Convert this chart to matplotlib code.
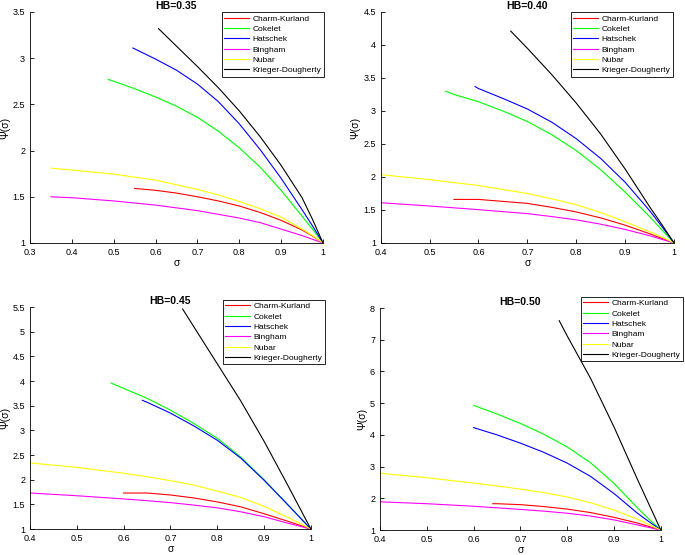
import matplotlib.pyplot as plt
from matplotlib.ticker import FormatStrFormatter, MultipleLocator

plt.rcParams['font.family'] = ['Liberation Sans', 'DejaVu Sans']

# model names and colours (MATLAB style)
models = ['Charm-Kurland', 'Cokelet', 'Hatschek', 'Bingham', 'Nubar', 'Krieger-Dougherty']
colors = ['#ff0000', '#00ff00', '#0000ff', '#ff00ff', '#ffff00', '#000000']

# HB = 0.35
ck35_x = [0.55, 0.6, 0.65, 0.7, 0.75, 0.8, 0.85, 0.9, 0.95, 0.975, 1.0]
ck35_y = [1.59, 1.57, 1.54, 1.50, 1.455, 1.40, 1.33, 1.245, 1.14, 1.075, 1.0]
co35_x = [0.487, 0.5, 0.55, 0.6, 0.65, 0.7, 0.75, 0.8, 0.85, 0.9, 0.95, 0.975, 1.0]
co35_y = [2.77, 2.75, 2.67, 2.58, 2.48, 2.36, 2.21, 2.03, 1.82, 1.57, 1.29, 1.15, 1.0]
ha35_x = [0.546, 0.6, 0.65, 0.7, 0.75, 0.8, 0.85, 0.9, 0.95, 0.975, 1.0]
ha35_y = [3.11, 2.99, 2.87, 2.72, 2.53, 2.29, 2.01, 1.70, 1.36, 1.185, 1.0]
bi35_x = [0.35, 0.4, 0.5, 0.6, 0.7, 0.75, 0.8, 0.85, 0.9, 0.95, 0.975, 1.0]
bi35_y = [1.50, 1.49, 1.455, 1.41, 1.35, 1.31, 1.27, 1.22, 1.15, 1.08, 1.04, 1.0]
nu35_x = [0.35, 0.4, 0.5, 0.6, 0.7, 0.75, 0.8, 0.85, 0.9, 0.95, 0.975, 1.0]
nu35_y = [1.81, 1.79, 1.745, 1.68, 1.58, 1.52, 1.45, 1.37, 1.28, 1.15, 1.08, 1.0]
kd35_x = [0.607, 0.65, 0.7, 0.75, 0.8, 0.85, 0.9, 0.95, 0.975, 1.0]
kd35_y = [3.32, 3.13, 2.91, 2.68, 2.43, 2.15, 1.84, 1.49, 1.255, 1.0]

# HB = 0.40
ck40_x = [0.55, 0.6, 0.65, 0.7, 0.75, 0.8, 0.85, 0.9, 0.95, 0.975, 1.0]
ck40_y = [1.66, 1.66, 1.63, 1.60, 1.54, 1.47, 1.38, 1.27, 1.14, 1.07, 1.0]
co40_x = [0.533, 0.55, 0.6, 0.65, 0.7, 0.75, 0.8, 0.85, 0.9, 0.95, 0.975, 1.0]
co40_y = [3.30, 3.25, 3.14, 3.00, 2.84, 2.64, 2.40, 2.11, 1.77, 1.40, 1.20, 1.0]
ha40_x = [0.593, 0.6, 0.65, 0.7, 0.75, 0.8, 0.85, 0.9, 0.95, 0.975, 1.0]
ha40_y = [3.37, 3.34, 3.19, 3.03, 2.83, 2.58, 2.28, 1.92, 1.49, 1.25, 1.0]
bi40_x = [0.4, 0.5, 0.6, 0.65, 0.7, 0.75, 0.8, 0.85, 0.9, 0.95, 0.975, 1.0]
bi40_y = [1.61, 1.56, 1.505, 1.475, 1.445, 1.40, 1.35, 1.285, 1.205, 1.11, 1.055, 1.0]
nu40_x = [0.4, 0.5, 0.6, 0.65, 0.7, 0.75, 0.8, 0.85, 0.9, 0.95, 0.975, 1.0]
nu40_y = [2.035, 1.96, 1.87, 1.81, 1.75, 1.67, 1.58, 1.46, 1.32, 1.17, 1.09, 1.0]
kd40_x = [0.666, 0.7, 0.75, 0.8, 0.85, 0.9, 0.95, 0.975, 1.0]
kd40_y = [4.21, 3.95, 3.55, 3.12, 2.65, 2.12, 1.55, 1.28, 1.0]

# HB = 0.45
ck45_x = [0.6, 0.65, 0.7, 0.75, 0.8, 0.85, 0.9, 0.95, 0.975, 1.0]
ck45_y = [1.73, 1.73, 1.69, 1.63, 1.55, 1.45, 1.31, 1.16, 1.08, 1.0]
co45_x = [0.573, 0.6, 0.65, 0.7, 0.75, 0.8, 0.85, 0.9, 0.95, 0.975, 1.0]
co45_y = [3.96, 3.85, 3.65, 3.41, 3.14, 2.84, 2.46, 2.00, 1.50, 1.25, 1.0]
ha45_x = [0.64, 0.65, 0.7, 0.75, 0.8, 0.85, 0.9, 0.95, 0.975, 1.0]
ha45_y = [3.61, 3.57, 3.35, 3.09, 2.80, 2.44, 1.99, 1.50, 1.25, 1.0]
bi45_x = [0.4, 0.5, 0.6, 0.65, 0.7, 0.75, 0.8, 0.85, 0.9, 0.95, 0.975, 1.0]
bi45_y = [1.73, 1.675, 1.61, 1.575, 1.535, 1.485, 1.43, 1.35, 1.25, 1.12, 1.06, 1.0]
nu45_x = [0.4, 0.5, 0.6, 0.65, 0.7, 0.75, 0.8, 0.85, 0.9, 0.95, 0.975, 1.0]
nu45_y = [2.34, 2.25, 2.13, 2.06, 1.98, 1.89, 1.77, 1.64, 1.46, 1.24, 1.12, 1.0]
kd45_x = [0.726, 0.75, 0.8, 0.85, 0.9, 0.95, 0.975, 1.0]
kd45_y = [5.46, 5.10, 4.35, 3.60, 2.78, 1.90, 1.45, 1.0]

# HB = 0.50
ck50_x = [0.641, 0.65, 0.7, 0.75, 0.8, 0.85, 0.9, 0.95, 0.975, 1.0]
ck50_y = [1.83, 1.83, 1.80, 1.74, 1.66, 1.55, 1.40, 1.22, 1.11, 1.0]
co50_x = [0.6, 0.65, 0.7, 0.75, 0.8, 0.85, 0.9, 0.95, 0.975, 1.0]
co50_y = [4.93, 4.66, 4.36, 4.02, 3.62, 3.12, 2.47, 1.70, 1.34, 1.0]
ha50_x = [0.6, 0.65, 0.7, 0.75, 0.8, 0.85, 0.9, 0.95, 0.975, 1.0]
ha50_y = [4.23, 4.00, 3.74, 3.45, 3.11, 2.69, 2.15, 1.53, 1.26, 1.0]
bi50_x = [0.4, 0.5, 0.6, 0.65, 0.7, 0.75, 0.8, 0.85, 0.9, 0.95, 0.975, 1.0]
bi50_y = [1.89, 1.83, 1.75, 1.70, 1.65, 1.595, 1.53, 1.44, 1.32, 1.16, 1.08, 1.0]
nu50_x = [0.4, 0.5, 0.6, 0.65, 0.7, 0.75, 0.8, 0.85, 0.9, 0.95, 0.975, 1.0]
nu50_y = [2.79, 2.65, 2.48, 2.39, 2.29, 2.18, 2.04, 1.86, 1.63, 1.34, 1.17, 1.0]
kd50_x = [0.783, 0.8, 0.85, 0.9, 0.95, 0.975, 1.0]
kd50_y = [7.6, 7.12, 5.78, 4.25, 2.60, 1.80, 1.0]

panels = [
    ('HB=0.35', [(ck35_x, ck35_y), (co35_x, co35_y), (ha35_x, ha35_y),
                 (bi35_x, bi35_y), (nu35_x, nu35_y), (kd35_x, kd35_y)],
     (0.3, 1), (1, 3.5), 0.5, [0.0438, 0.5622, 0.4277, 0.4162], (0.473, 0.978)),
    ('HB=0.40', [(ck40_x, ck40_y), (co40_x, co40_y), (ha40_x, ha40_y),
                 (bi40_x, bi40_y), (nu40_x, nu40_y), (kd40_x, kd40_y)],
     (0.4, 1), (1, 4.5), 0.5, [0.5558, 0.5622, 0.4282, 0.4162], (0.9825, 0.978)),
    ('HB=0.45', [(ck45_x, ck45_y), (co45_x, co45_y), (ha45_x, ha45_y),
                 (bi45_x, bi45_y), (nu45_x, nu45_y), (kd45_x, kd45_y)],
     (0.4, 1), (1, 5.5), 0.5, [0.0438, 0.0468, 0.410, 0.400], (0.4745, 0.4595)),
    ('HB=0.50', [(ck50_x, ck50_y), (co50_x, co50_y), (ha50_x, ha50_y),
                 (bi50_x, bi50_y), (nu50_x, nu50_y), (kd50_x, kd50_y)],
     (0.4, 1), (1, 8), 1.0, [0.5547, 0.045, 0.410, 0.400], (0.997, 0.465)),
]

fig = plt.figure(figsize=(6.85, 5.55), dpi=100)

for title, curves, xlim, ylim, ystep, pos, leg_anchor in panels:
    ax = fig.add_axes(pos)
    for (x, y), name, c in zip(curves, models, colors):
        ax.plot(x, y, color=c, lw=0.8, label=name, solid_joinstyle='round')
    ax.set_xlim(*xlim)
    ax.set_ylim(*ylim)
    ax.xaxis.set_major_locator(MultipleLocator(0.1))
    ax.yaxis.set_major_locator(MultipleLocator(ystep))
    ax.xaxis.set_major_formatter(FormatStrFormatter('%g'))
    ax.yaxis.set_major_formatter(FormatStrFormatter('%g'))
    ax.spines['top'].set_visible(False)
    ax.spines['right'].set_visible(False)
    for s in ['left', 'bottom']:
        ax.spines[s].set_linewidth(0.6)
    ax.tick_params(direction='in', length=3, width=0.6, labelsize=6.5, pad=3.5)
    ax.set_xlabel('σ', fontsize=7.5, labelpad=1)
    ax.set_ylabel('Ψ(σ)', fontsize=7.5, labelpad=2)
    ax.set_title(title, fontsize=7.5, fontweight='bold', pad=2)
    leg = ax.legend(loc='upper right', bbox_to_anchor=leg_anchor,
                    bbox_transform=fig.transFigure, fontsize=6,
                    fancybox=False, edgecolor='black', framealpha=1,
                    handlelength=3.0, labelspacing=0.3, borderpad=0.3,
                    handletextpad=0.4, borderaxespad=0)
    leg.get_frame().set_linewidth(0.6)

fig.savefig('out.png', dpi=100)
